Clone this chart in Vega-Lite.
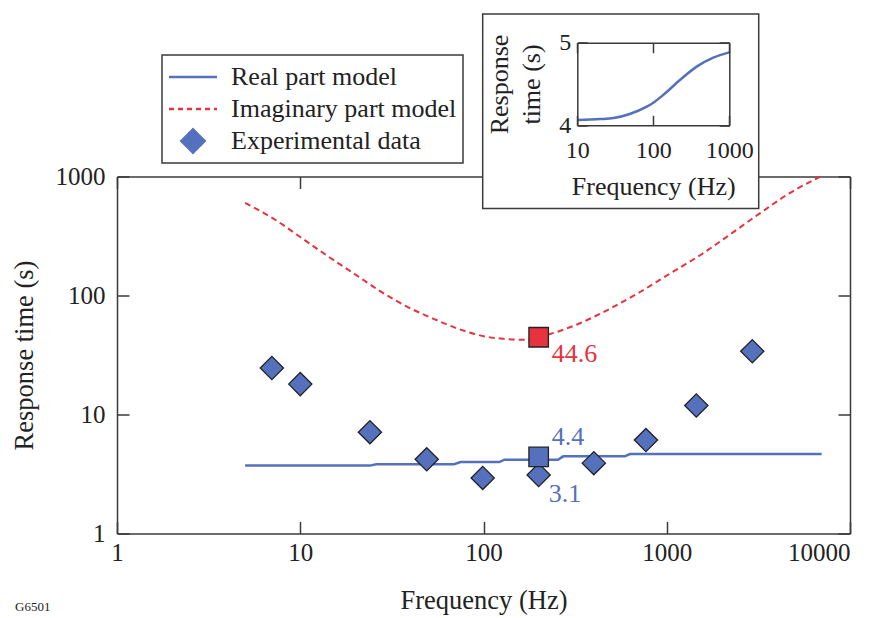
{
  "$schema": "https://vega.github.io/schema/vega-lite/v6.json",
  "width": 733,
  "height": 357,
  "autosize": "none",
  "padding": {"left": 117, "top": 176.5, "right": 31, "bottom": 84.5},
  "background": "white",
  "title": {"text": "G6501", "orient": "bottom", "anchor": "start", "frame": "group", "fontSize": 13, "fontWeight": "normal", "color": "#222222", "font": "Liberation Serif", "dx": -102, "offset": -13},
  "config": {
    "font": "Liberation Serif",
    "view": {"stroke": null},
    "axis": {"grid": false, "domainColor": "#3a3a3a", "domainWidth": 1.5, "tickColor": "#3a3a3a", "tickWidth": 1.5, "labelColor": "#222222", "titleColor": "#222222", "labelFont": "Liberation Serif", "titleFont": "Liberation Serif", "titleFontWeight": "normal", "labelFontSize": 25, "titleFontSize": 26.5, "labelFlush": false, "labelOverlap": false}
  },
  "datasets": {
    "main": [
      {"series": "Imaginary part model", "f": 5, "t": 600},
      {"series": "Imaginary part model", "f": 7.1, "t": 445},
      {"series": "Imaginary part model", "f": 10, "t": 310},
      {"series": "Imaginary part model", "f": 13.9, "t": 218},
      {"series": "Imaginary part model", "f": 19.5, "t": 154},
      {"series": "Imaginary part model", "f": 27, "t": 110},
      {"series": "Imaginary part model", "f": 38, "t": 81},
      {"series": "Imaginary part model", "f": 53, "t": 64},
      {"series": "Imaginary part model", "f": 74, "t": 52},
      {"series": "Imaginary part model", "f": 104, "t": 45},
      {"series": "Imaginary part model", "f": 128, "t": 43.3},
      {"series": "Imaginary part model", "f": 165, "t": 42.4},
      {"series": "Imaginary part model", "f": 231, "t": 47.5},
      {"series": "Imaginary part model", "f": 336, "t": 58.5},
      {"series": "Imaginary part model", "f": 490, "t": 77.5},
      {"series": "Imaginary part model", "f": 715, "t": 107},
      {"series": "Imaginary part model", "f": 1042, "t": 153},
      {"series": "Imaginary part model", "f": 1520, "t": 218},
      {"series": "Imaginary part model", "f": 2218, "t": 326},
      {"series": "Imaginary part model", "f": 3231, "t": 492},
      {"series": "Imaginary part model", "f": 4710, "t": 729},
      {"series": "Imaginary part model", "f": 6900, "t": 1000},
      {"series": "Real part model", "f": 5, "t": 3.72},
      {"series": "Real part model", "f": 24, "t": 3.72},
      {"series": "Real part model", "f": 26, "t": 3.82},
      {"series": "Real part model", "f": 69, "t": 3.82},
      {"series": "Real part model", "f": 75, "t": 3.98},
      {"series": "Real part model", "f": 122, "t": 3.98},
      {"series": "Real part model", "f": 130, "t": 4.17},
      {"series": "Real part model", "f": 255, "t": 4.17},
      {"series": "Real part model", "f": 272, "t": 4.45},
      {"series": "Real part model", "f": 590, "t": 4.45},
      {"series": "Real part model", "f": 630, "t": 4.65},
      {"series": "Real part model", "f": 7000, "t": 4.65},
      {"series": "Experimental data", "f": 7, "t": 24.6},
      {"series": "Experimental data", "f": 10, "t": 18.0},
      {"series": "Experimental data", "f": 24, "t": 7.1},
      {"series": "Experimental data", "f": 49, "t": 4.2},
      {"series": "Experimental data", "f": 99, "t": 2.93},
      {"series": "Experimental data", "f": 200, "t": 3.1},
      {"series": "Experimental data", "f": 400, "t": 3.9},
      {"series": "Experimental data", "f": 770, "t": 6.1},
      {"series": "Experimental data", "f": 1450, "t": 11.9},
      {"series": "Experimental data", "f": 2930, "t": 34.0}
    ],
    "callouts": [
      {"kind": "imag", "f": 200, "t": 44.6, "label": "44.6"},
      {"kind": "real", "f": 200, "t": 4.4, "label": "4.4"},
      {"kind": "exp", "f": 200, "t": 3.1, "label": "3.1"}
    ],
    "inset": [
      {"f": 10, "t": 4.065},
      {"f": 20, "t": 4.075},
      {"f": 30, "t": 4.088},
      {"f": 49, "t": 4.137},
      {"f": 82, "t": 4.226},
      {"f": 100, "t": 4.274},
      {"f": 135, "t": 4.367},
      {"f": 224, "t": 4.548},
      {"f": 372, "t": 4.71},
      {"f": 615, "t": 4.819},
      {"f": 1000, "t": 4.883}
    ]
  },
  "layer": [
    {
      "data": {"name": "main"},
      "encoding": {
        "x": {"field": "f", "type": "quantitative", "scale": {"type": "log", "domain": [1, 10000], "nice": false},
          "axis": {"orient": "bottom", "values": [1, 10, 100, 1000, 10000], "format": "d", "tickSize": -12, "labelPadding": 19, "title": "Frequency (Hz)", "titlePadding": 22,
            "labelAlign": {"condition": {"test": "datum.value === 10000", "value": "right"}, "value": "center"}}},
        "y": {"field": "t", "type": "quantitative", "scale": {"type": "log", "domain": [1, 1000], "nice": false},
          "axis": {"orient": "left", "values": [1, 10, 100, 1000], "format": "d", "tickSize": -12, "labelPadding": 24, "title": "Response time (s)", "titlePadding": 17}}
      },
      "layer": [
        {
          "transform": [{"filter": "datum.series === 'Imaginary part model'"}],
          "mark": {"type": "line", "strokeDash": [6, 4], "strokeWidth": 2, "interpolate": "monotone"},
          "encoding": {"color": {"field": "series", "type": "nominal",
            "scale": {"domain": ["Real part model", "Imaginary part model", "Experimental data"], "range": ["#5570bd", "#e6333d", "#5570bd"]},
            "legend": {"orient": "none", "legendX": 45, "legendY": -121.5, "title": null, "padding": 6, "strokeColor": "#3a3a3a", "fillColor": "white",
              "labelFont": "Liberation Serif", "labelFontSize": 26, "labelColor": "#222222", "labelLimit": 500, "symbolSize": 2304, "clipHeight": 32, "rowPadding": 0,
              "labelOffset": 25, "symbolOffset": 12, "symbolStrokeWidth": 2.5,
              "encode": {
                "legend": {"update": {"strokeWidth": {"value": 1.5}}},
                "symbols": {"update": {
                  "shape": {"signal": "datum.value === 'Experimental data' ? 'diamond' : 'stroke'"},
                  "size": {"signal": "datum.value === 'Experimental data' ? 625 : 2304"},
                  "fill": {"signal": "datum.value === 'Experimental data' ? '#5570bd' : 'transparent'"},
                  "stroke": {"signal": "datum.value === 'Experimental data' ? '#222222' : (datum.value === 'Imaginary part model' ? '#e6333d' : '#5570bd')"},
                  "strokeDash": {"signal": "datum.value === 'Imaginary part model' ? [5, 4] : [1, 0]"},
                  "strokeWidth": {"signal": "datum.value === 'Experimental data' ? 1.3 : 2.5"},
                  "opacity": {"value": 1}
                }}
              }}}}
        },
        {
          "transform": [{"filter": "datum.series === 'Real part model'"}],
          "mark": {"type": "line", "strokeWidth": 2.5},
          "encoding": {"color": {"field": "series", "type": "nominal"}}
        },
        {
          "transform": [{"filter": "datum.series === 'Experimental data'"}],
          "mark": {"type": "point", "shape": "diamond", "filled": true, "size": 540, "stroke": "#222222", "strokeWidth": 1.3, "opacity": 1},
          "encoding": {"color": {"field": "series", "type": "nominal"}}
        },
        {
          "data": {"name": "callouts"},
          "transform": [{"filter": "datum.kind === 'imag'"}],
          "layer": [
            {"mark": {"type": "square", "size": 380, "color": "#e6333d", "stroke": "#222222", "strokeWidth": 1.3, "opacity": 1, "filled": true}},
            {"mark": {"type": "text", "color": "#e6333d", "fontSize": 26, "font": "Liberation Serif", "align": "left", "baseline": "middle", "dx": 13, "dy": 17}, "encoding": {"text": {"field": "label"}}}
          ]
        },
        {
          "data": {"name": "callouts"},
          "transform": [{"filter": "datum.kind === 'real'"}],
          "layer": [
            {"mark": {"type": "square", "size": 380, "color": "#5570bd", "stroke": "#222222", "strokeWidth": 1.3, "opacity": 1, "filled": true}},
            {"mark": {"type": "text", "color": "#5570bd", "fontSize": 26, "font": "Liberation Serif", "align": "left", "baseline": "middle", "dx": 13, "dy": -20}, "encoding": {"text": {"field": "label"}}}
          ]
        },
        {
          "data": {"name": "callouts"},
          "transform": [{"filter": "datum.kind === 'exp'"}],
          "mark": {"type": "text", "color": "#5570bd", "fontSize": 26, "font": "Liberation Serif", "align": "left", "baseline": "middle", "dx": 10, "dy": 19},
          "encoding": {"text": {"field": "label"}}
        }
      ]
    },
    {
      "data": {"name": "main"},
      "mark": {"type": "point", "opacity": 0},
      "encoding": {
        "x": {"field": "f", "type": "quantitative", "scale": {"type": "log", "domain": [1, 10000], "nice": false},
          "axis": {"orient": "top", "values": [1, 10, 100, 1000, 10000], "labels": false, "tickSize": -12, "title": null}},
        "y": {"field": "t", "type": "quantitative", "scale": {"type": "log", "domain": [1, 1000], "nice": false},
          "axis": {"orient": "right", "values": [1, 10, 100, 1000], "labels": false, "tickSize": -12, "title": null}}
      }
    },
    {
      "layer": [
        {
          "data": {"values": [{}]},
          "mark": {"type": "rect", "fill": "white", "stroke": "#3a3a3a", "strokeWidth": 1.5},
          "encoding": {
            "x": {"datum": 0.569, "type": "quantitative", "scale": {"type": "log", "domain": [10, 1000], "range": [460.3, 612.3], "nice": false},
              "axis": {"orient": "bottom", "offset": -408.2, "zindex": 1, "values": [10, 100, 1000], "format": "d", "tickSize": -10, "labelPadding": 23.6, "labelFontSize": 24, "title": "Frequency (Hz)", "titleFontSize": 26, "titlePadding": 11}},
            "x2": {"datum": 2438},
            "y": {"datum": 2.993, "type": "quantitative", "scale": {"type": "linear", "domain": [4, 5], "range": [-51.2, -133.8], "nice": false, "zero": false},
              "axis": {"orient": "left", "offset": -460.3, "zindex": 1, "values": [4, 5], "format": "d", "tickSize": -10, "labelPadding": 16.6, "labelFontSize": 24, "title": ["Response", "time (s)"], "titleFontSize": 26, "titleLineHeight": 32, "titlePadding": 14}},
            "y2": {"datum": 5.347}
          }
        },
        {
          "data": {"name": "inset"},
          "mark": {"type": "line", "color": "#5570bd", "strokeWidth": 2.5, "interpolate": "monotone"},
          "encoding": {
            "x": {"field": "f", "type": "quantitative"},
            "y": {"field": "t", "type": "quantitative"}
          }
        }
      ]
    },
    {
      "data": {"name": "inset"},
      "mark": {"type": "point", "opacity": 0},
      "encoding": {
        "x": {"field": "f", "type": "quantitative", "scale": {"type": "log", "domain": [10, 1000], "range": [460.3, 612.3], "nice": false},
          "axis": {"orient": "top", "offset": 133.8, "zindex": 1, "values": [10, 100, 1000], "labels": false, "tickSize": -10, "title": null}},
        "y": {"field": "t", "type": "quantitative", "scale": {"type": "linear", "domain": [4, 5], "range": [-51.2, -133.8], "nice": false, "zero": false},
          "axis": {"orient": "right", "offset": -120.7, "zindex": 1, "values": [4, 5], "labels": false, "tickSize": -10, "title": null}}
      }
    }
  ],
  "resolve": {"scale": {"x": "independent", "y": "independent"}, "axis": {"x": "independent", "y": "independent"}}
}
